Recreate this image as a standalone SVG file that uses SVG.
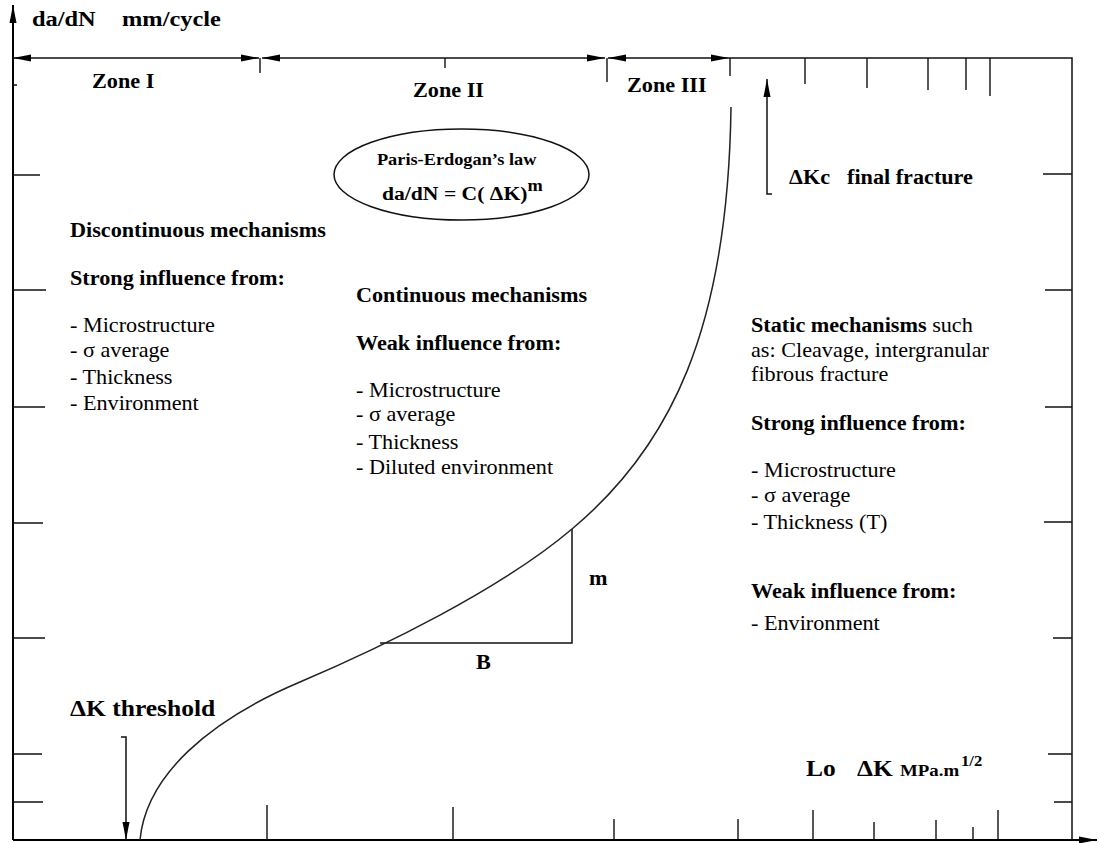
<svg xmlns="http://www.w3.org/2000/svg" width="1099" height="843" viewBox="0 0 1099 843">
<defs>
<style>
.ax{stroke:#000;stroke-width:2;fill:none}
.ln{stroke:#111;stroke-width:1.5;fill:none}
.tk{stroke:#111;stroke-width:1.4;fill:none}
.cv{stroke:#222;stroke-width:1.5;fill:none}
text{font-family:"Liberation Serif","Times New Roman",serif;fill:#000;font-size:20px}
.b{font-weight:bold}
</style>
<marker id="ah" viewBox="0 -4 18 8" refX="18" refY="0" markerWidth="18" markerHeight="8" markerUnits="userSpaceOnUse" orient="auto-start-reverse">
<path d="M0,-3.5 L18,0 L0,3.5 z" fill="#000"/>
</marker>
</defs>
<rect width="1099" height="843" fill="#fff"/>

<g id="axes">
<path class="ax" d="M13,840 L13,5" marker-end="url(#ah)"/>
<path class="ax" d="M13,840 L1097,840" marker-end="url(#ah)"/>
<path class="ln" d="M729,58 L1072,58 L1072,840"/>
<path class="tk" d="M13,85 h4 M13,175 h27 M13,290 h33 M13,407 h32 M13,523 h30 M13,638 h32 M13,754 h29 M13,802 h30"/>
<path class="tk" d="M1072,174 h-29 M1072,290 h-27 M1072,407 h-27 M1072,522 h-28 M1072,638 h-19 M1072,754 h-24 M1072,802 h-18"/>
<path class="tk" d="M260,58 v15 M445,58 v10 M607,58 v24 M730,58 v18 M805,58 v26 M867,58 v30 M928,58 v32 M966,58 v32 M990,58 v38"/>
<path class="tk" d="M267,840 v-35 M453,840 v-33 M614,840 v-21 M738,840 v-21 M813,840 v-30 M874,840 v-18 M936,840 v-20 M973,840 v-13 M998,840 v-30"/>
</g>

<g id="connectors">
<path class="ln" d="M13,58 L259,58" marker-start="url(#ah)" marker-end="url(#ah)"/>
<path class="ln" d="M262,58 L605,58" marker-start="url(#ah)" marker-end="url(#ah)"/>
<path class="ln" d="M608,58 L729,58" marker-start="url(#ah)" marker-end="url(#ah)"/>
<path class="ln" d="M772,194 L767,194 L767,79" marker-end="url(#ah)"/>
<path class="ln" d="M121,737 L126,737 L126,840" marker-end="url(#ah)"/>
<path class="ln" d="M380,643 L572,643 L572,529"/>
</g>

<g id="curve">
<path class="cv" d="M140,840 C146,775 210,720 300,682 C380,648 500,590 572,529 C670,447 728,330 731,107"/>
</g>

<g id="paris-law">
<ellipse class="ln" cx="461.5" cy="174.5" rx="127.5" ry="45.5"/>
</g>

<g id="labels" transform="scale(1.11 1)">
<text class="b" x="28.8" y="26" style="font-size:22px">da/dN</text>
<text class="b" x="109.9" y="26" style="font-size:22px">mm/cycle</text>
<text class="b" x="82.9" y="88">Zone I</text>
<text class="b" x="372.1" y="97">Zone II</text>
<text class="b" x="564.9" y="92">Zone III</text>
<text class="b" x="339.6" y="165" style="font-size:16.5px">Paris-Erdogan’s law</text>
<text class="b" x="344.1" y="200" style="font-size:19.5px">da/dN = C( ΔK)<tspan dy="-9" style="font-size:16.5px">m</tspan></text>

<text class="b" x="63.1" y="237">Discontinuous mechanisms</text>
<text class="b" x="63.1" y="285">Strong influence from:</text>
<text x="63.1" y="332">- Microstructure</text>
<text x="63.1" y="357">- σ average</text>
<text x="63.1" y="384">- Thickness</text>
<text x="63.1" y="410">- Environment</text>

<text class="b" x="320.7" y="302">Continuous mechanisms</text>
<text class="b" x="320.7" y="350">Weak influence from:</text>
<text x="320.7" y="397">- Microstructure</text>
<text x="320.7" y="421">- σ average</text>
<text x="320.7" y="449">- Thickness</text>
<text x="320.7" y="474">- Diluted environment</text>

<text class="b" x="710.8" y="184">ΔKc</text>
<text class="b" x="763.1" y="184">final fracture</text>

<text x="676.6" y="332"><tspan class="b">Static mechanisms</tspan> such</text>
<text x="676.6" y="357">as: Cleavage, intergranular</text>
<text x="676.6" y="381">fibrous fracture</text>
<text class="b" x="676.6" y="430">Strong influence from:</text>
<text x="676.6" y="477">- Microstructure</text>
<text x="676.6" y="502">- σ average</text>
<text x="676.6" y="529">- Thickness (T)</text>
<text class="b" x="676.6" y="598">Weak influence from:</text>
<text x="676.6" y="630">- Environment</text>

<text class="b" x="530.6" y="585">m</text>
<text class="b" x="428.8" y="669">B</text>
<text class="b" x="63.1" y="716" style="font-size:23px">ΔK threshold</text>

<text class="b" x="726.1" y="776" style="font-size:23px">Lo</text>
<text class="b" x="772.1" y="776" style="font-size:23px">ΔK</text>
<text class="b" x="810.8" y="776" style="font-size:17px">MPa.m</text>
<text class="b" x="865.8" y="766" style="font-size:15px">1/2</text>
</g>
</svg>
